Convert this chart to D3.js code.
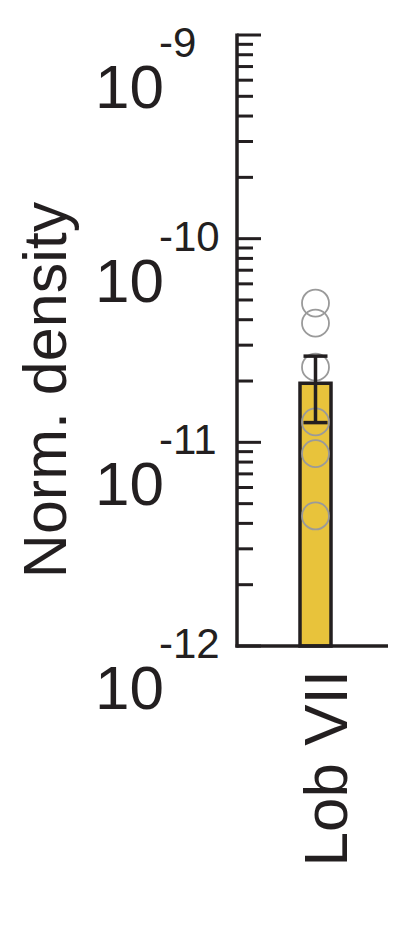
<!DOCTYPE html>
<html><head><meta charset="utf-8">
<script src="https://cdn.jsdelivr.net/npm/d3@7"></script>
<style>
html,body{margin:0;padding:0;background:#fff;}
svg{display:block;}
text{font-family:"Liberation Sans",Arial,Helvetica,sans-serif;fill:#231f20;}
</style></head>
<body>
<script>
const categories = ["Lob VII"];
const barValues = [1.95e-11];
const errValues = [0.7e-11];
const pointValues = [4.83e-11, 3.85e-11, 2.34e-11, 1.26e-11, 8.8e-12, 4.35e-12];
const majorExponents = [-12, -11, -10, -9];
const yTitle = "Norm. density";

const W = 406, H = 934;
const svg = d3.select("body").append("svg").attr("width", W).attr("height", H);

const y = d3.scaleLog().domain([1e-12, 1e-9]).range([646, 35]);
const x = d3.scaleBand().domain(categories).range([300, 331]).padding(0);
const axisX = 237;
const ink = "#231f20";

// bar
svg.selectAll("rect.bar").data(categories).join("rect")
  .attr("class", "bar")
  .attr("x", d => x(d))
  .attr("width", x.bandwidth())
  .attr("y", (d, i) => y(barValues[i]))
  .attr("height", (d, i) => y(1e-12) - y(barValues[i]))
  .attr("fill", "#e8c33b")
  .attr("stroke", ink)
  .attr("stroke-width", 3.5);

// points
const cx = x(categories[0]) + x.bandwidth() / 2;
svg.selectAll("circle.pt").data(pointValues).join("circle")
  .attr("class", "pt")
  .attr("cx", cx)
  .attr("cy", d => y(d))
  .attr("r", 13.5)
  .attr("fill", "none")
  .attr("stroke", "#9a9a9a")
  .attr("stroke-width", 1.8);

// error bar
const eg = svg.append("g").attr("stroke", ink).attr("stroke-width", 3.5);
categories.forEach((c, i) => {
  const hi = y(barValues[i] + errValues[i]);
  const lo = y(barValues[i] - errValues[i]);
  const mx = x(c) + x.bandwidth() / 2;
  eg.append("line").attr("x1", mx).attr("x2", mx).attr("y1", hi).attr("y2", lo);
  eg.append("line").attr("x1", mx - 12).attr("x2", mx + 12).attr("y1", hi).attr("y2", hi);
  eg.append("line").attr("x1", mx - 12).attr("x2", mx + 12).attr("y1", lo).attr("y2", lo);
});

// y axis with log ticks on the inside (right)
const ticks = y.ticks();
const yAxis = svg.append("g");
yAxis.append("line").attr("x1", axisX).attr("x2", axisX)
  .attr("y1", y(1e-9) - 1.5).attr("y2", y(1e-12) + 1.5)
  .attr("stroke", ink).attr("stroke-width", 3.5);
yAxis.selectAll("line.tk").data(ticks).join("line")
  .attr("class", "tk")
  .attr("x1", axisX)
  .attr("x2", d => Math.abs(Math.log10(d) - Math.round(Math.log10(d))) < 1e-6 ? axisX + 24 : axisX + 16)
  .attr("y1", d => y(d)).attr("y2", d => y(d))
  .attr("stroke", ink).attr("stroke-width", 3);

// x axis line
svg.append("line").attr("x1", axisX - 1.5).attr("x2", 388)
  .attr("y1", y(1e-12)).attr("y2", y(1e-12))
  .attr("stroke", ink).attr("stroke-width", 3.5);

// tick labels 10^n
majorExponents.forEach(e => {
  const base = Math.max(y(Math.pow(10, e)) + 63, 108);
  svg.append("text").attr("x", 95).attr("y", base)
    .attr("font-size", 62).text("10");
  svg.append("text").attr("x", 159).attr("y", base - 51)
    .attr("font-size", 42).text(String(e));
});

// y title
svg.append("text")
  .attr("transform", "translate(66,390) rotate(-90)")
  .attr("text-anchor", "middle")
  .attr("font-size", 61)
  .text(yTitle);

// category label
svg.selectAll("text.cat").data(categories).join("text")
  .attr("class", "cat")
  .attr("transform", d => `translate(${x(d) + x.bandwidth() / 2 + 31},670) rotate(-90)`)
  .attr("text-anchor", "end")
  .attr("font-size", 62)
  .text(d => d);
</script>
</body></html>
